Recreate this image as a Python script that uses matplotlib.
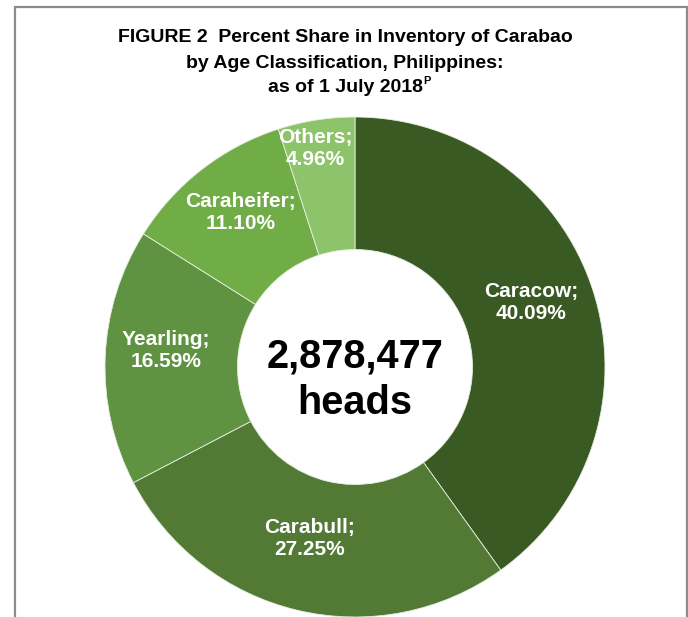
import numpy as np
import matplotlib
matplotlib.use('Agg')
import matplotlib.pyplot as plt
from matplotlib.patches import Rectangle

# data
categories = ['Caracow', 'Carabull', 'Yearling', 'Caraheifer', 'Others']
shares = [40.09, 27.25, 16.59, 11.10, 4.96]
colors = ['#3a5a24', '#527a35', '#5f9341', '#70ad47', '#8dc36b']
total_heads = '2,878,477'
title_lines = ['FIGURE 2  Percent Share in Inventory of Carabao',
               'by Age Classification, Philippines:',
               'as of 1 July 2018']

plt.rcParams['font.family'] = ['Liberation Sans', 'DejaVu Sans']

W, H = 688, 617
fig = plt.figure(figsize=(W / 100, H / 100), dpi=100, facecolor='white')

# grey frame (open at the bottom, cut off by the image edge)
fig.patches.append(Rectangle((15.5 / W, -0.05), (686.5 - 15.5) / W, 1.05 - 6.5 / H,
                             transform=fig.transFigure, fill=False,
                             edgecolor='#8c8c8c', lw=1.6))

# donut: centre (355, 367) px, outer radius 250 px
cx, cy, R = 355, 367, 250
ax = fig.add_axes([(cx - R) / W, (H - cy - R) / H, 2 * R / W, 2 * R / H])
wedges, _ = ax.pie(shares, colors=colors, startangle=90, counterclock=False,
                   radius=1.0, wedgeprops=dict(width=0.53, edgecolor='#e8efe2', linewidth=0.6))
ax.set_xlim(-1, 1); ax.set_ylim(-1, 1)
ax.set_aspect('equal'); ax.axis('off')

# slice labels at mid-angle; radius / angle nudged per slice like Excel does
label_r = [0.75, 0.71, 0.76, 0.77, 0.89]
label_nudge = [2.3, -1.3, -2.8, -1.3, 1.4]
cum = np.cumsum([0] + shares[:-1])
for name, s, c0, r, dn in zip(categories, shares, cum, label_r, label_nudge):
    ang = np.deg2rad(90 - 3.6 * (c0 + s / 2) + dn)
    ax.text(r * np.cos(ang), r * np.sin(ang), f'{name};\n{s:.2f}%',
            ha='center', va='center', color='white', fontsize=15,
            fontweight='bold', linespacing=1.2)

ax.text(0, -0.052, f'{total_heads}\nheads', ha='center', va='center',
        fontsize=28.6, fontweight='bold', color='black', linespacing=1.28)

# title
ys = [38, 63, 88]
txts = []
for line, y in zip(title_lines, ys):
    txts.append(fig.text(345 / W, 1 - y / H, line, ha='center', va='center',
                         fontsize=14, fontweight='bold', color='black'))
# superscript P right after "2018"
fig.canvas.draw()
bb = txts[-1].get_window_extent()
fig.text((bb.x1 + 1) / W, 1 - 81 / H, 'P', ha='left', va='center',
         fontsize=8, fontweight='bold', color='black')

plt.savefig('out.png', dpi=100, facecolor='white')
